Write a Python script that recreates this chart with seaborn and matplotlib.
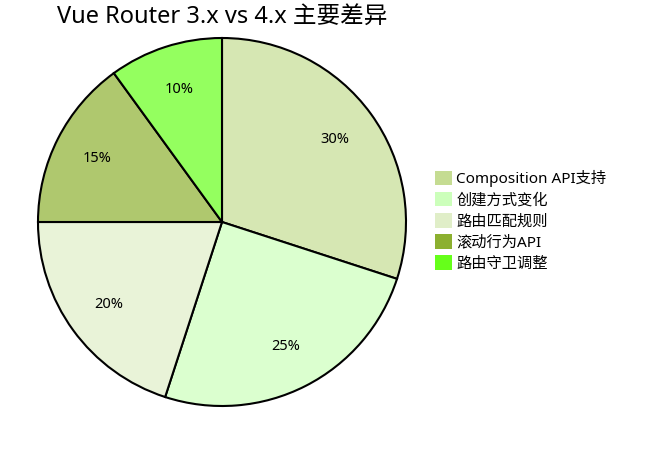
import matplotlib
matplotlib.use("Agg")
import matplotlib.pyplot as plt
import matplotlib.patches as mpatches
import matplotlib.colors as mcolors
import seaborn as sns

categories = ["Composition API支持", "创建方式变化", "路由匹配规则", "滚动行为API", "路由守卫调整"]
values = [30, 25, 20, 15, 10]
colors = ["#c5dc92", "#ccffbb", "#e0eec8", "#8cb030", "#66ff1a"]


def lighten(c, alpha=0.7):
    """blend colour onto white so the slice edge stays solid black"""
    r, g, b = mcolors.to_rgb(c)
    return (alpha * r + 1 - alpha, alpha * g + 1 - alpha, alpha * b + 1 - alpha)


sns.set_theme(style="white")
plt.rcParams["font.family"] = ["Noto Sans", "Noto Sans CJK SC", "DejaVu Sans"]
plt.rcParams["text.color"] = "black"

fig = plt.figure(figsize=(6.69, 4.5), dpi=100)
ax = fig.add_axes([(222 - 184) / 669, (228 - 184) / 450, 368 / 669, 368 / 450])

wedges, texts, autotexts = ax.pie(
    values,
    colors=[lighten(c) for c in colors],
    startangle=90,
    counterclock=False,
    autopct="%d%%",
    pctdistance=0.76,
    wedgeprops={"edgecolor": "black", "linewidth": 1.5},
    textprops={"fontsize": 10.5, "color": "black"},
)
for w in wedges:
    w.set_clip_on(False)
ax.set_xlim(-1, 1)
ax.set_ylim(-1, 1)
ax.set_aspect("equal")
ax.axis("off")

fig.text(222 / 669, 1 - 17 / 450, "Vue Router 3.x vs 4.x 主要差异",
         ha="center", va="center", fontsize=17, color="black")

handles = [mpatches.Patch(facecolor=c, edgecolor="none") for c in colors]
fig.legend(handles, categories, loc="upper left",
           bbox_to_anchor=(429 / 669, 1 - 164 / 450),
           frameon=False, fontsize=11, handlelength=1.1, handleheight=1.1,
           handletextpad=0.3, labelspacing=0.3, borderaxespad=0,
           labelcolor="black")

fig.savefig("out.png", dpi=100)
